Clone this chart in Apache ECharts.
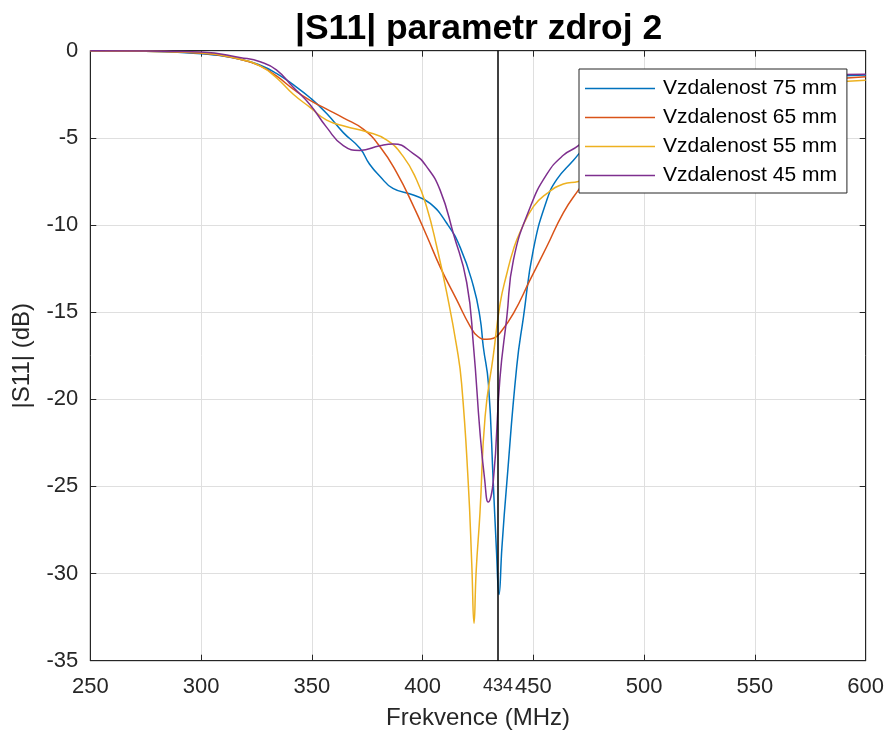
<!DOCTYPE html>
<html>
<head>
<meta charset="utf-8">
<script src="https://cdn.jsdelivr.net/npm/echarts@6/dist/echarts.min.js"></script>
<style>
  html, body { margin: 0; padding: 0; background: #fff; }
  #chart { width: 891px; height: 738px; }
</style>
</head>
<body>
<div id="chart"></div>
<script>
// |S11| vs frequency for four source distances
const seriesNames = ['Vzdalenost 75 mm', 'Vzdalenost 65 mm', 'Vzdalenost 55 mm', 'Vzdalenost 45 mm'];
const seriesColors = ['#0072BD', '#D95319', '#EDB120', '#7E2F8E'];

const f75 = [250, 275, 300, 318, 327, 334, 341.6, 349.2, 356.7, 364.2, 371.7, 376, 380.7, 386.6, 395.8, 403.4, 410.9, 417, 422.9, 425.9, 427.4, 429.7, 431.9, 433.3, 434.5, 435.8, 438, 442.5, 445.5, 450, 456, 460.5, 468, 475, 485, 500, 520, 540, 560, 580, 600];
const s75 = [0, -0.03, -0.18, -0.5, -0.85, -1.3, -1.95, -2.7, -3.6, -4.7, -5.6, -6.5, -7.2, -7.9, -8.28, -8.76, -9.9, -11.3, -13.5, -15.3, -17.0, -19.1, -24.8, -28.6, -31.2, -28.5, -24.8, -18.1, -15.3, -11.4, -8.6, -7.4, -6.3, -5.3, -4.3, -3.2, -2.4, -2.0, -1.7, -1.5, -1.4];

const f65 = [250, 275, 300, 318, 327, 334, 341.6, 349.2, 356.7, 364.2, 373.2, 380.7, 388.3, 395.8, 401.8, 407.9, 415.4, 421.4, 425, 429, 432, 434.9, 441, 448.5, 456, 463.5, 470.3, 480, 490, 500, 520, 540, 560, 580, 600];
const s65 = [0, -0.03, -0.15, -0.5, -0.9, -1.45, -2.2, -2.85, -3.35, -3.85, -4.5, -5.5, -7.0, -8.9, -10.6, -12.4, -14.3, -15.8, -16.4, -16.56, -16.5, -16.2, -15.07, -13.15, -11.25, -9.3, -8.0, -6.3, -5.0, -4.1, -3.0, -2.4, -2.0, -1.7, -1.5];

const f55 = [250, 275, 300, 318, 327, 334, 341.6, 349.2, 356.7, 365.7, 374.7, 383.7, 391.3, 397.3, 401.8, 406.4, 410.9, 415.4, 417.6, 420.6, 422.2, 423.2, 424.2, 425.9, 428.2, 431.9, 435, 438, 441, 444, 450, 456, 463.5, 470.3, 480, 490, 500, 520, 540, 560, 580, 600];
const s55 = [0, -0.03, -0.12, -0.5, -0.9, -1.55, -2.5, -3.25, -3.98, -4.36, -4.65, -5.12, -6.08, -7.42, -8.95, -11.25, -13.9, -17.0, -19.1, -24.8, -29.5, -32.85, -29.8, -26.5, -21.0, -17.5, -14.5, -12.8, -11.4, -10.4, -8.95, -8.2, -7.65, -7.5, -7.1, -6.3, -5.4, -3.9, -2.9, -2.3, -1.9, -1.7];

const f45 = [250, 275, 300, 318, 327, 334, 341.6, 349.2, 356.7, 364.2, 371.7, 380.7, 386.8, 395.8, 401.8, 407.9, 413.9, 419.9, 423, 425.9, 428, 429.6, 431.9, 434.9, 438, 441, 448.5, 456, 463.5, 470.3, 480, 490, 500, 520, 540, 560, 580, 600];
const s45 = [0, -0.02, -0.08, -0.4, -0.65, -1.1, -2.1, -3.1, -4.4, -5.45, -5.72, -5.45, -5.35, -5.9, -6.65, -8.0, -10.5, -13.3, -17.0, -21.9, -24.6, -25.9, -24.7, -18.8, -15.3, -12.0, -9.0, -7.1, -6.0, -5.45, -4.3, -3.5, -2.9, -2.2, -1.8, -1.55, -1.4, -1.35];

const xTicks = [250, 300, 350, 400, 450, 500, 550, 600];
const yTicks = [-35, -30, -25, -20, -15, -10, -5, 0];
const markerFreq = 434;

const freqSets = [f75, f65, f55, f45];
const valueSets = [s75, s65, s55, s45];

const FONT = "'Liberation Sans', Arial, Helvetica, sans-serif";
const INK = '#262626';

function pairs(fs, vs) { return fs.map((f, i) => [f, vs[i]]); }

const series = seriesNames.map((name, k) => ({
  name: name,
  type: 'line',
  data: pairs(freqSets[k], valueSets[k]),
  smooth: 0.5,
  symbol: 'none',
  showSymbol: false,
  lineStyle: { color: seriesColors[k], width: 1.5 },
  itemStyle: { color: seriesColors[k] },
  z: 2
}));

series[3].markLine = {
  silent: true,
  symbol: ['none', 'none'],
  lineStyle: { color: '#000', width: 1.5, type: 'solid' },
  label: {
    show: true,
    position: 'start',
    formatter: String(markerFreq),
    fontFamily: FONT,
    fontSize: 18,
    color: INK,
    distance: 16
  },
  data: [{ xAxis: markerFreq }]
};

const chart = echarts.init(document.getElementById('chart'), null, { renderer: 'canvas' });
chart.setOption({
  animation: false,
  backgroundColor: '#fff',
  title: {
    text: '|S11| parametr zdroj 2',
    left: 290,
    top: 6,
    textStyle: { fontFamily: FONT, fontSize: 35.5, fontWeight: 'bold', color: '#000' }
  },
  grid: {
    left: 90.3, right: 25.3, top: 50.7, bottom: 77.3,
    show: true, borderColor: INK, borderWidth: 1, backgroundColor: 'transparent'
  },
  legend: {
    data: seriesNames,
    orient: 'vertical',
    left: 579,
    top: 69,
    z: 20,
    backgroundColor: '#fff',
    borderColor: INK,
    borderWidth: 1,
    borderRadius: 0,
    padding: [9, 10, 7, 6],
    icon: 'rect',
    itemWidth: 70,
    itemHeight: 1.5,
    itemGap: 8,
    textStyle: { fontFamily: FONT, fontSize: 21, color: '#000', lineHeight: 21, padding: [0, 0, 0, 3] },
    selectedMode: false
  },
  xAxis: [{
    type: 'value',
    min: xTicks[0], max: xTicks[xTicks.length - 1], interval: 50,
    name: 'Frekvence (MHz)',
    nameLocation: 'middle',
    nameGap: 46,
    nameTextStyle: { fontFamily: FONT, fontSize: 24, color: INK },
    axisLine: { show: true, onZero: false, lineStyle: { color: INK, width: 1 } },
    axisTick: { show: true, inside: true, length: 6, lineStyle: { color: INK } },
    axisLabel: { fontFamily: FONT, fontSize: 22, color: INK, margin: 15 },
    splitLine: { show: true, lineStyle: { color: '#dfdfdf', width: 1 } }
  }, {
    type: 'value', position: 'top',
    min: xTicks[0], max: xTicks[xTicks.length - 1], interval: 50,
    axisLine: { show: true, onZero: false, lineStyle: { color: INK } },
    axisTick: { show: true, inside: true, length: 6, lineStyle: { color: INK } },
    axisLabel: { show: false },
    splitLine: { show: false }
  }],
  yAxis: [{
    type: 'value',
    min: yTicks[0], max: yTicks[yTicks.length - 1], interval: 5,
    name: '|S11| (dB)',
    nameLocation: 'middle',
    nameGap: 56,
    nameTextStyle: { fontFamily: FONT, fontSize: 24, color: INK },
    axisLine: { show: true, onZero: false, lineStyle: { color: INK, width: 1 } },
    axisTick: { show: true, inside: true, length: 6, lineStyle: { color: INK } },
    axisLabel: { fontFamily: FONT, fontSize: 22, color: INK, margin: 12 },
    splitLine: { show: true, lineStyle: { color: '#dfdfdf', width: 1 } }
  }, {
    type: 'value', position: 'right',
    min: yTicks[0], max: yTicks[yTicks.length - 1], interval: 5,
    axisLine: { show: true, onZero: false, lineStyle: { color: INK } },
    axisTick: { show: true, inside: true, length: 6, lineStyle: { color: INK } },
    axisLabel: { show: false },
    splitLine: { show: false }
  }],
  series: series
});
</script>
</body>
</html>
